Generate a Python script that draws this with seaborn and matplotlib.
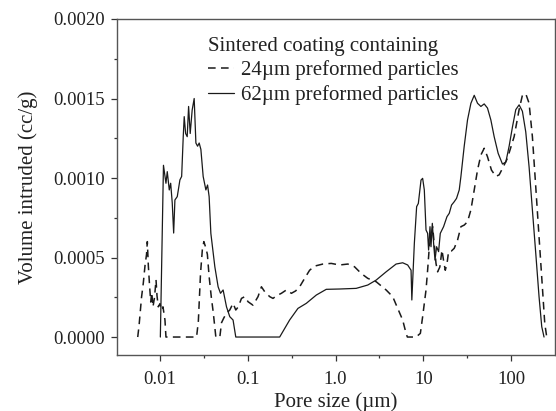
import numpy as np
import pandas as pd
import seaborn as sns
import matplotlib
matplotlib.use("Agg")
import matplotlib.pyplot as plt
from matplotlib.ticker import FixedLocator, FixedFormatter, MultipleLocator, FormatStrFormatter

# 62um preformed particles (solid line)
pore_62 = [0.0101, 0.01096, 0.0117, 0.01211, 0.01276, 0.01324, 0.0138, 0.01432, 0.0148, 0.01574,
           0.01687, 0.01766, 0.01841, 0.01889, 0.0196, 0.02043, 0.02119, 0.0221, 0.02328, 0.02453,
           0.02566, 0.02682, 0.02797, 0.02924, 0.03105, 0.03334, 0.03484, 0.03631, 0.03799, 0.04217,
           0.04596, 0.04894, 0.05239, 0.05726, 0.0624, 0.06801, 0.07304, 0.231, 0.2999, 0.3729,
           0.4647, 0.6036, 0.7839, 1.11, 1.718, 2.328, 2.9, 3.767, 4.895, 5.818,
           6.633, 7.248, 7.397, 7.901, 8.39, 8.77, 9.41, 9.82, 10.26, 10.73,
           11.19, 11.48, 11.91, 12.23, 12.66, 13.09, 13.58, 14.16, 14.92, 15.6,
           17.01, 18.59, 19.74, 20.97, 22.49, 23.89, 25.64, 26.8, 29.22, 31.86,
           34.83, 38.0, 41.43, 45.25, 49.35, 53.8, 58.78, 64.1, 71.19, 79.68,
           87.05, 94.9, 103.5, 113.0, 123.3, 134.4, 146.8, 160.2, 174.7, 190.8,
           208.0, 223.3, 237.1]
vol_62 = [0, 0.00108, 0.000967, 0.00104, 0.000925, 0.000967, 0.000843, 0.000654, 0.000862, 0.000883,
          0.000988, 0.00101, 0.00126, 0.001386, 0.00128, 0.00126, 0.00145, 0.00128, 0.001428, 0.0015,
          0.00122, 0.0012, 0.00122, 0.00118, 0.00101, 0.000925, 0.000956, 0.000883, 0.000652, 0.000442,
          0.000316, 0.000275, 0.000296, 0.00019, 0.000128, 0.000107, 0, 0, 0.000107, 0.00018,
          0.000212, 0.000264, 0.0003, 0.000302, 0.000306, 0.000327, 0.000358, 0.00041, 0.000459, 0.000467,
          0.000453, 0.00042, 0.000233, 0.00059, 0.00082, 0.00084, 0.000987, 0.000998, 0.000925, 0.000673,
          0.000652, 0.000547, 0.000694, 0.000568, 0.000715, 0.00059, 0.000484, 0.000568, 0.000537, 0.000652,
          0.000694, 0.000757, 0.000778, 0.00083, 0.000851, 0.000872, 0.000925, 0.00101, 0.0012, 0.001365,
          0.00147, 0.00152, 0.00147, 0.00145, 0.001466, 0.00144, 0.001365, 0.00126, 0.001155, 0.001088,
          0.0011, 0.0012, 0.00132, 0.00143, 0.00146, 0.00142, 0.00129, 0.00107, 0.0008, 0.000527,
          0.000254, 0.000065, 0]

# 24um preformed particles (dashed line)
pore_24 = [0.00558, 0.005774, 0.006166, 0.00646, 0.006757, 0.007031, 0.007178, 0.007368, 0.007598, 0.007849,
           0.008054, 0.008327, 0.00867, 0.009016, 0.009251, 0.009571, 0.01, 0.0104, 0.01082, 0.0114,
           0.0117, 0.02612, 0.02737, 0.02897, 0.0304, 0.03162, 0.03334, 0.03467, 0.03631, 0.03846,
           0.04055, 0.04217, 0.04329, 0.04808, 0.05025, 0.05336, 0.05726, 0.0624, 0.06801, 0.07304,
           0.078, 0.08482, 0.09244, 0.1008, 0.1148, 0.1309, 0.1431, 0.156, 0.1778, 0.1939,
           0.2136, 0.2415, 0.2754, 0.314, 0.3511, 0.39, 0.4446, 0.5066, 0.5774, 0.7174,
           0.8935, 1.11, 1.38, 1.644, 1.959, 2.328, 2.9, 3.767, 4.479, 5.105,
           5.818, 6.359, 6.579, 8.26, 9.25, 9.82, 10.73, 11.19, 11.7, 12.76,
           13.34, 13.94, 14.54, 15.41, 16.31, 17.01, 17.78, 18.59, 19.39, 20.8,
           22.49, 24.54, 26.8, 29.22, 31.86, 34.83, 38.0, 41.43, 45.25, 49.35,
           53.8, 59.7, 67.0, 73.1, 79.68, 90.8, 108.2, 123.3, 134.4, 146.8,
           160.2, 174.7, 190.8, 208.0, 226.9, 241.6, 254.5]
vol_24 = [0, 0.00007, 0.00025, 0.00034, 0.00045, 0.00052, 0.0006, 0.00045, 0.00033, 0.00022,
          0.00028, 0.00019, 0.00025, 0.00036, 0.00026, 0.00019, 0.00021, 0.00017, 0.00019, 0.000107,
          0, 0, 0.0001, 0.0004, 0.00055, 0.0006, 0.00056, 0.00052, 0.00038, 0.00025,
          0.00015, 0.00006, 0, 0, 0.00009, 0.00012, 0.00015, 0.00017, 0.000212, 0.00017,
          0.00019, 0.000243, 0.000254, 0.000222, 0.0002, 0.000254, 0.000316, 0.000285, 0.000254, 0.000243,
          0.00026, 0.000275, 0.000296, 0.000275, 0.00029, 0.000316, 0.000369, 0.00042, 0.000446, 0.000459,
          0.000463, 0.000453, 0.000459, 0.000442, 0.0004, 0.000369, 0.000348, 0.000296, 0.000254, 0.00018,
          0.000107, 0.000023, 0, 0, 0.000023, 0.000128, 0.000296, 0.00042, 0.000568, 0.000694,
          0.00058, 0.000463, 0.00041, 0.00044, 0.000547, 0.00048, 0.00042, 0.00046, 0.000537, 0.00054,
          0.000558, 0.00061, 0.000694, 0.000704, 0.000725, 0.0008, 0.000925, 0.00105, 0.001145, 0.001187,
          0.001134, 0.00105, 0.00101, 0.00102, 0.00106, 0.001124, 0.00126, 0.00143, 0.00152, 0.00153,
          0.00147, 0.00126, 0.000945, 0.00063, 0.000316, 0.000086, 0]

x_ticks = [0.01, 0.1, 1.0, 10, 100]
x_tick_labels = ["0.01", "0.1", "1.0", "10", "100"]
x_minor = [10 ** (k + 0.5) for k in range(-3, 3)]

df24 = pd.DataFrame({"pore": pore_24, "vol": vol_24})
df62 = pd.DataFrame({"pore": pore_62, "vol": vol_62})

sns.set_style("ticks")
plt.rcParams["font.family"] = ["Liberation Serif", "DejaVu Serif"]

fig = plt.figure(figsize=(5.56, 4.11), dpi=100)
ax = fig.add_axes([117 / 556, 1 - 355 / 411, (554.5 - 117) / 556, (355 - 19) / 411])

line_col = "#1a1a1a"
sns.lineplot(data=df24, x="pore", y="vol", ax=ax, estimator=None, sort=False,
             color=line_col, lw=1.1, dashes=False, label="24\u00b5m preformed particles")
sns.lineplot(data=df62, x="pore", y="vol", ax=ax, estimator=None, sort=False,
             color=line_col, lw=0.9, label="62\u00b5m preformed particles")
ax.lines[0].set_dashes([5, 3.5])

ax.set_xscale("log")
ax.set_xlim(0.00324, 312)
ax.set_ylim(-0.000113, 0.0020)

ax.xaxis.set_major_locator(FixedLocator(x_ticks))
ax.xaxis.set_major_formatter(FixedFormatter(x_tick_labels))
ax.xaxis.set_minor_locator(FixedLocator(x_minor))
ax.xaxis.set_minor_formatter(FixedFormatter([""] * len(x_minor)))
ax.yaxis.set_major_locator(MultipleLocator(0.0005))
ax.yaxis.set_minor_locator(MultipleLocator(0.00025))
ax.yaxis.set_major_formatter(FormatStrFormatter("%.4f"))

ax.tick_params(which="major", direction="out", length=4.5, width=0.9, labelsize=13.5, colors="#333333",
               labelcolor="#222222", pad=4)
ax.tick_params(which="minor", direction="out", length=2.5, width=0.9, colors="#333333")
ax.tick_params(axis="x", which="major", pad=7)
for s in ax.spines.values():
    s.set_color("#555555")
    s.set_linewidth(1.0)

ax.set_xlabel("Pore size (\u00b5m)", fontsize=15, color="#222222", labelpad=3)
ax.set_ylabel("Volume intruded (cc/g)", fontsize=15, color="#222222", labelpad=11)

leg = ax.legend(title="Sintered coating containing", loc="upper left",
                bbox_to_anchor=(208 / 556, 1 - 37 / 411), bbox_transform=fig.transFigure,
                frameon=False, fontsize=15, title_fontsize=15, alignment="left",
                handlelength=1.25, handletextpad=0.35, labelspacing=0.22, borderpad=0,
                borderaxespad=0)
for t in leg.get_texts():
    t.set_color("#222222")
leg.get_title().set_color("#222222")

fig.savefig("out.png", dpi=100)
